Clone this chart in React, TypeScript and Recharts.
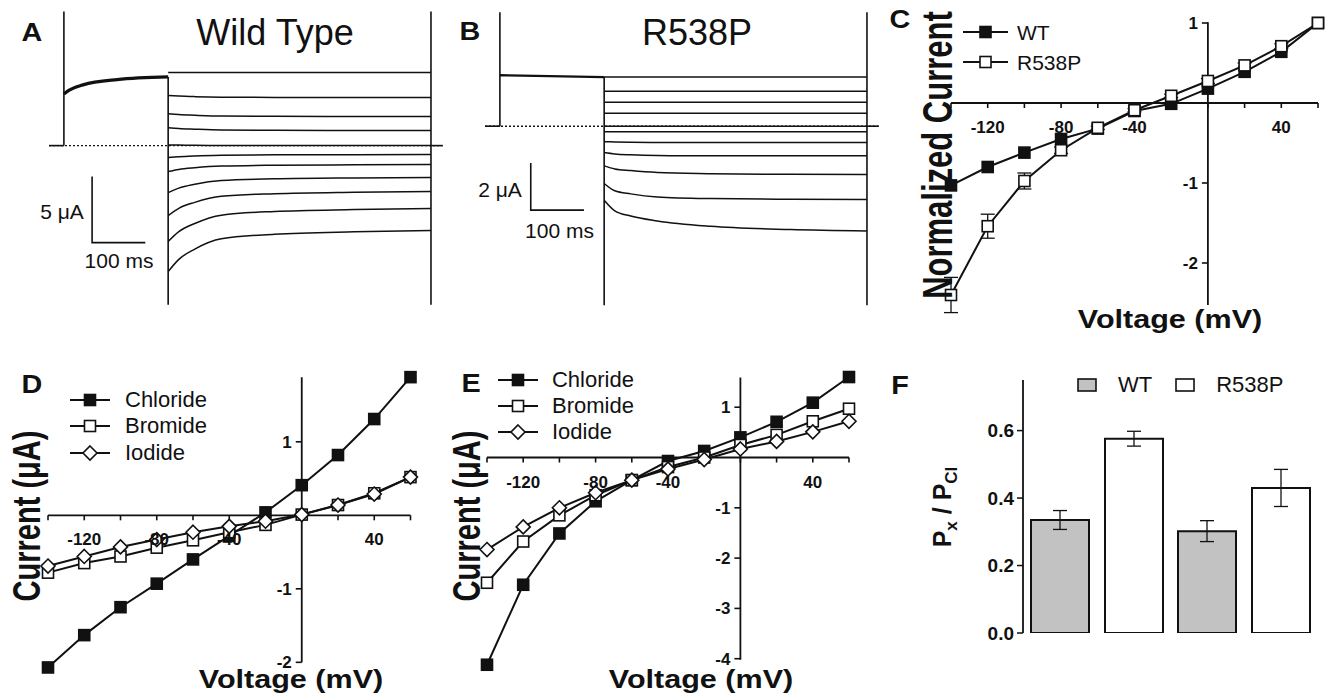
import React from 'react';
import {
  LineChart,
  Line,
  XAxis,
  YAxis,
  ReferenceLine,
  ErrorBar,
  BarChart,
  Bar,
  Legend,
} from 'recharts';

const FONT = '"Liberation Sans", Arial, Helvetica, sans-serif';
const INK = '#111';

// ---- A / B: two-electrode voltage clamp traces (time in ms, current in µA) ----
const protocolDomain = [-28, 712];
const testStart = 196;
const testEnd = 690;
const testTimes = [0, 20, 50, 100, 200, 350, 494];

const wtPreTimes = [0, 10, 36, 100, 196];
const wtPreCurrent = [3.9, 4.2, 4.6, 5.0, 5.2];
const wtTestCurrents = [
  [5.53, 5.53, 5.53, 5.53, 5.53, 5.53, 5.53],
  [3.79, 3.75, 3.71, 3.67, 3.65, 3.64, 3.64],
  [2.42, 2.35, 2.3, 2.24, 2.22, 2.21, 2.2],
  [1.36, 1.29, 1.24, 1.18, 1.16, 1.15, 1.14],
  [0.05, 0.04, 0.02, 0.01, 0, 0, 0],
  [-0.91, -0.84, -0.78, -0.73, -0.7, -0.69, -0.68],
  [-1.97, -1.81, -1.68, -1.55, -1.49, -1.46, -1.44],
  [-3.56, -3.22, -2.93, -2.65, -2.52, -2.45, -2.42],
  [-5.3, -4.75, -4.3, -3.84, -3.64, -3.53, -3.48],
  [-7.27, -6.52, -5.9, -5.27, -4.99, -4.85, -4.77],
  [-9.55, -8.62, -7.84, -7.06, -6.72, -6.53, -6.44],
];
const wtSpike = [10.15, -12.05];
const wtScaleBar = [[53, -2.35], [53, -7.35], [153, -7.35]];

const mutPreTimes = [0, 196];
const mutPreCurrent = [2.17, 2.09];
const mutTestCurrents = [
  [2.09, 2.09, 2.09, 2.09, 2.09, 2.09, 2.09],
  [1.49, 1.49, 1.49, 1.49, 1.49, 1.49, 1.49],
  [1.02, 1.02, 1.02, 1.02, 1.02, 1.02, 1.02],
  [0.55, 0.55, 0.55, 0.55, 0.55, 0.55, 0.55],
  [0, 0, 0, 0, 0, 0, 0],
  [-0.24, -0.24, -0.24, -0.24, -0.24, -0.24, -0.24],
  [-0.66, -0.67, -0.68, -0.69, -0.69, -0.69, -0.69],
  [-1.12, -1.18, -1.22, -1.25, -1.26, -1.26, -1.26],
  [-1.69, -1.82, -1.89, -1.97, -2.02, -2.05, -2.06],
  [-2.44, -2.75, -2.88, -3.01, -3.08, -3.11, -3.12],
  [-3.15, -3.6, -3.82, -4.03, -4.26, -4.4, -4.46],
];
const mutSpike = [4.85, -7.62];
const mutScaleBar = [[58, -1.57], [58, -3.57], [158, -3.57]];

// ---- C / D / E: current-voltage relations ----
const voltages = [-140, -120, -100, -80, -60, -40, -20, 0, 20, 40, 60];

const wtNorm = [-1.03, -0.8, -0.62, -0.45, -0.32, -0.1, -0.01, 0.18, 0.39, 0.64, 1.0];
const r538pNorm = [-2.4, -1.54, -0.975, -0.59, -0.31, -0.09, 0.09, 0.275, 0.47, 0.71, 1.0];
const r538pNormErr = [0.22, 0.15, 0.1, 0.04, 0.02, 0.02, 0.02, 0.03, 0.03, 0.03, 0];

const wtChloride = [-2.07, -1.63, -1.25, -0.93, -0.6, -0.28, 0.04, 0.41, 0.82, 1.31, 1.88];
const wtBromide = [-0.78, -0.65, -0.56, -0.44, -0.34, -0.23, -0.13, 0.01, 0.14, 0.3, 0.52];
const wtIodide = [-0.69, -0.56, -0.43, -0.33, -0.23, -0.15, -0.08, 0.01, 0.14, 0.29, 0.52];

const mutChloride = [-4.12, -2.53, -1.51, -0.87, -0.45, -0.07, 0.13, 0.4, 0.71, 1.09, 1.6];
const mutBromide = [-2.49, -1.67, -1.15, -0.75, -0.45, -0.19, 0.0, 0.25, 0.45, 0.72, 0.97];
const mutIodide = [-1.83, -1.38, -1.0, -0.7, -0.45, -0.23, -0.04, 0.17, 0.32, 0.51, 0.72];

const ivDomain = [-140, 60];
const ivTicks = [-140, -120, -100, -80, -60, -40, -20, 0, 20, 40, 60];
const ivTickLabels = [-120, -80, -40, 40];

// ---- F: relative permeability ----
const ions = ['Br', 'I'];
const wtPerm = [0.335, 0.302];
const wtPermErr = [0.028, 0.031];
const mutPerm = [0.576, 0.43];
const mutPermErr = [0.022, 0.055];
const permTicks = [0, 0.2, 0.4, 0.6];

type Shape = 'filledSquare' | 'openSquare' | 'diamond';

function Marker({ shape, cx, cy }: { shape: Shape; cx: number; cy: number }) {
  if (cx == null || cy == null) return null;
  if (shape === 'diamond') {
    const r = 7;
    return (
      <path
        d={`M${cx},${cy - r}L${cx + r},${cy}L${cx},${cy + r}L${cx - r},${cy}Z`}
        fill="#fff"
        stroke={INK}
        strokeWidth={1.6}
      />
    );
  }
  const s = 11;
  return (
    <rect
      x={cx - s / 2}
      y={cy - s / 2}
      width={s}
      height={s}
      fill={shape === 'filledSquare' ? INK : '#fff'}
      stroke={INK}
      strokeWidth={1.6}
    />
  );
}

function Txt({ x, y, size, bold, anchor = 'middle', sx = 1, sy = 1, rotate = false, children }: any) {
  const tx = anchor === 'middle' ? '-50%' : anchor === 'end' ? '-100%' : '0';
  return (
    <div
      style={{
        position: 'absolute',
        left: x,
        top: y,
        fontSize: size,
        fontWeight: bold ? 700 : 400,
        lineHeight: 1,
        whiteSpace: 'nowrap',
        transform: `translate(${tx}, -50%) ${rotate ? 'rotate(-90deg)' : ''} scale(${sx}, ${sy})`,
      }}
    >
      {children}
    </div>
  );
}

function TracePanel({ t0, zero, pxMs, pxUA, yDomain, preTimes, pre, tests, spike, scaleBar, preWidth }: any) {
  const M = 6;
  const plotLeft = t0 + protocolDomain[0] * pxMs;
  const plotTop = zero - yDomain[1] * pxUA;
  const w = (protocolDomain[1] - protocolDomain[0]) * pxMs;
  const h = (yDomain[1] - yDomain[0]) * pxUA;
  const toRows = (pairs: number[][]) => pairs.map(([t, i]) => ({ t, i }));
  const segments = [
    [[protocolDomain[0], 0], [0, 0]],
    [[0, 0], [0, spike[0]]],
    [[testStart, pre[pre.length - 1]], [testStart, spike[1]]],
    [[testEnd, spike[0]], [testEnd, spike[1]]],
    [[testEnd, 0], [protocolDomain[1], 0]],
  ];
  return (
    <div style={{ position: 'absolute', left: plotLeft - M, top: plotTop - M }}>
      <LineChart width={w + 2 * M} height={h + 2 * M} margin={{ top: M, right: M, bottom: M, left: M }}>
        <XAxis dataKey="t" type="number" domain={protocolDomain} hide />
        <YAxis type="number" domain={yDomain} hide />
        <ReferenceLine y={0} stroke={INK} strokeWidth={1.4} strokeDasharray="2 2" />
        {segments.map((s, k) => (
          <Line key={`seg${k}`} data={toRows(s)} dataKey="i" type="linear" stroke={INK} strokeWidth={1.6} dot={false} activeDot={false} isAnimationActive={false} />
        ))}
        <Line
          data={preTimes.map((t: number, k: number) => ({ t, i: pre[k] }))}
          dataKey="i"
          type="monotone"
          stroke={INK}
          strokeWidth={preWidth}
          dot={false}
          activeDot={false}
          isAnimationActive={false}
        />
        {tests.map((vals: number[], k: number) => (
          <Line
            key={`tr${k}`}
            data={testTimes.map((t, j) => ({ t: t + testStart, i: vals[j] }))}
            dataKey="i"
            type="monotone"
            stroke={INK}
            strokeWidth={1.5}
            dot={false}
            activeDot={false}
            isAnimationActive={false}
          />
        ))}
        <Line data={toRows(scaleBar)} dataKey="i" type="linear" stroke={INK} strokeWidth={1.6} dot={false} activeDot={false} isAnimationActive={false} />
      </LineChart>
    </div>
  );
}

const tickFont = { fontSize: 17, fontWeight: 700, fill: INK, fontFamily: FONT };

function IVPanel({ ox, oy, sx, sy, yDomain, yAxis, yTicks, series, legend }: any) {
  const M = 14;
  const plotLeft = ox + ivDomain[0] * sx;
  const plotTop = oy - yDomain[1] * sy;
  const w = (ivDomain[1] - ivDomain[0]) * sx;
  const h = (yDomain[1] - yDomain[0]) * sy;
  const boxLeft = plotLeft - M;
  const boxTop = plotTop - M;
  const rows = voltages.map((v, k) => {
    const row: any = { v };
    series.forEach((s: any) => {
      row[s.key] = s.values[k];
      if (s.err) row[`${s.key}Err`] = s.err[k];
    });
    return row;
  });
  const xTickLen = 5 / sy;
  const yTickLen = 6 / sx;
  const legendContent = () => (
    <div style={{ fontFamily: FONT, fontSize: legend.fontSize, color: INK, lineHeight: 1 }}>
      {series.map((s: any) => (
        <div key={s.key} style={{ display: 'flex', alignItems: 'center', height: legend.rowH }}>
          <svg width={legend.lineW} height={16} style={{ marginRight: legend.gap, overflow: 'visible' }}>
            <line x1={0} y1={8} x2={legend.lineW} y2={8} stroke={INK} strokeWidth={2} />
            <Marker shape={s.shape} cx={legend.lineW / 2} cy={8} />
          </svg>
          <span>{s.name}</span>
        </div>
      ))}
    </div>
  );
  return (
    <div style={{ position: 'absolute', left: boxLeft, top: boxTop }}>
      <LineChart width={w + 2 * M} height={h + 2 * M} data={rows} margin={{ top: M, right: M, bottom: M, left: M }}>
        <XAxis dataKey="v" type="number" domain={ivDomain} hide />
        <YAxis type="number" domain={yDomain} hide />
        <ReferenceLine y={0} stroke={INK} strokeWidth={1.8} />
        <ReferenceLine segment={[{ x: 0, y: yAxis[0] }, { x: 0, y: yAxis[1] }]} stroke={INK} strokeWidth={1.8} />
        {ivTicks.map((v) => (
          <ReferenceLine
            key={`xt${v}`}
            segment={[{ x: v, y: 0 }, { x: v, y: -xTickLen }]}
            stroke={INK}
            strokeWidth={1.6}
            label={ivTickLabels.includes(v) ? { value: String(v), position: 'bottom', offset: 13, ...tickFont } : undefined}
          />
        ))}
        {yTicks.map((v: number) => (
          <ReferenceLine
            key={`yt${v}`}
            segment={[{ x: 0, y: v }, { x: -yTickLen, y: v }]}
            stroke={INK}
            strokeWidth={1.6}
            label={{ value: String(v), position: 'left', offset: 4, ...tickFont }}
          />
        ))}
        {series.map((s: any) => (
          <Line
            key={s.key}
            dataKey={s.key}
            name={s.name}
            type="linear"
            stroke={INK}
            strokeWidth={2}
            isAnimationActive={false}
            activeDot={false}
            dot={(p: any) => <Marker key={`${s.key}-${p.index}`} shape={s.shape} cx={p.cx} cy={p.cy} />}
          >
            {s.err && <ErrorBar dataKey={`${s.key}Err`} width={7} stroke={INK} strokeWidth={1.3} isAnimationActive={false} />}
          </Line>
        ))}
        <Legend
          layout="vertical"
          align="center"
          verticalAlign="middle"
          wrapperStyle={{ left: legend.x - boxLeft, top: legend.y - boxTop, width: 'auto', height: 'auto' }}
          content={legendContent}
        />
      </LineChart>
    </div>
  );
}

const fSeries = [
  { key: 'wt', name: 'WT', fill: '#c2c2c2' },
  { key: 'mut', name: 'R538P', fill: '#fff' },
];

function PermPanel() {
  const rows = ions.map((ion, k) => ({
    ion,
    wt: wtPerm[k],
    wtErr: wtPermErr[k],
    mut: mutPerm[k],
    mutErr: mutPermErr[k],
  }));
  const boxLeft = 963;
  const boxTop = 370;
  const legendContent = () => (
    <div style={{ display: 'flex', alignItems: 'center', height: 22, fontSize: 22, fontFamily: FONT, color: INK, lineHeight: 1 }}>
      {fSeries.map((s) => (
        <React.Fragment key={s.key}>
          <svg width={20} height={14}>
            <rect x={1} y={1} width={18} height={12} fill={s.fill} stroke={INK} strokeWidth={1.6} />
          </svg>
          <span style={{ marginLeft: 21, marginRight: 23 }}>{s.name}</span>
        </React.Fragment>
      ))}
    </div>
  );
  return (
    <div style={{ position: 'absolute', left: boxLeft, top: boxTop }}>
      <BarChart
        width={368}
        height={303}
        data={rows}
        margin={{ top: 10, right: 14, left: 0, bottom: 40 }}
        barCategoryGap={8}
        barGap={16}
      >
        <XAxis
          xAxisId="edge"
          type="number"
          domain={[0, 2]}
          ticks={[0, 1, 2]}
          allowDataOverflow
          tick={false}
          axisLine={false}
          tickLine={{ stroke: INK, strokeWidth: 1.5 }}
          tickSize={6}
          height={0}
        />
        <XAxis
          xAxisId="cat"
          dataKey="ion"
          type="category"
          height={0}
          tickLine={false}
          tickMargin={4}
          axisLine={{ stroke: INK, strokeWidth: 1.8 }}
          tick={{ fontSize: 21, fontWeight: 700, fill: INK, fontFamily: FONT }}
        />
        <YAxis
          width={60}
          type="number"
          domain={[0, 0.75]}
          ticks={permTicks}
          allowDataOverflow
          tickFormatter={(v: number) => v.toFixed(1)}
          tick={{ fontSize: 19, fontWeight: 700, fill: INK, fontFamily: FONT }}
          tickSize={6}
          tickMargin={3}
          tickLine={{ stroke: INK, strokeWidth: 1.5 }}
          axisLine={{ stroke: INK, strokeWidth: 1.8 }}
        />
        <Bar xAxisId="cat" dataKey="wt" name="WT" fill="#c2c2c2" stroke={INK} strokeWidth={2} isAnimationActive={false}>
          <ErrorBar dataKey="wtErr" width={7} stroke={INK} strokeWidth={1.3} isAnimationActive={false} />
        </Bar>
        <Bar xAxisId="cat" dataKey="mut" name="R538P" fill="#fff" stroke={INK} strokeWidth={2} isAnimationActive={false}>
          <ErrorBar dataKey="mutErr" width={7} stroke={INK} strokeWidth={1.3} isAnimationActive={false} />
        </Bar>
        <Legend
          layout="vertical"
          align="center"
          verticalAlign="middle"
          wrapperStyle={{ left: 1077 - boxLeft, top: 374 - boxTop, width: 'auto', height: 'auto' }}
          content={legendContent}
        />
      </BarChart>
    </div>
  );
}

export default function App() {
  return (
    <div
      style={{
        position: 'absolute',
        left: 0,
        top: 0,
        width: 1331,
        height: 695,
        background: '#fff',
        overflow: 'hidden',
        fontFamily: FONT,
        color: INK,
      }}
    >
      <TracePanel
        t0={64}
        zero={146}
        pxMs={0.532}
        pxUA={13.2}
        yDomain={[-12.5, 10.5]}
        preTimes={wtPreTimes}
        pre={wtPreCurrent}
        tests={wtTestCurrents}
        spike={wtSpike}
        scaleBar={wtScaleBar}
        preWidth={3.2}
      />
      <TracePanel
        t0={500}
        zero={126}
        pxMs={0.532}
        pxUA={23.5}
        yDomain={[-8, 5.2]}
        preTimes={mutPreTimes}
        pre={mutPreCurrent}
        tests={mutTestCurrents}
        spike={mutSpike}
        scaleBar={mutScaleBar}
        preWidth={2.4}
      />
      <IVPanel
        ox={1208}
        oy={103}
        sx={1.835}
        sy={80}
        yDomain={[-2.7, 1.1]}
        yAxis={[-2.525, 1.01]}
        yTicks={[1, -1, -2]}
        series={[
          { key: 'wt', name: 'WT', values: wtNorm, shape: 'filledSquare' },
          { key: 'mut', name: 'R538P', values: r538pNorm, err: r538pNormErr, shape: 'openSquare' },
        ]}
        legend={{ x: 963, y: 17, rowH: 30, lineW: 45, gap: 9, fontSize: 21 }}
      />
      <IVPanel
        ox={302}
        oy={515}
        sx={1.8125}
        sy={73.5}
        yDomain={[-2.15, 1.95]}
        yAxis={[-2.0, 1.877]}
        yTicks={[1, -1, -2]}
        series={[
          { key: 'cl', name: 'Chloride', values: wtChloride, shape: 'filledSquare' },
          { key: 'br', name: 'Bromide', values: wtBromide, shape: 'openSquare' },
          { key: 'io', name: 'Iodide', values: wtIodide, shape: 'diamond' },
        ]}
        legend={{ x: 70, y: 386.5, rowH: 26.5, lineW: 40, gap: 15, fontSize: 22 }}
      />
      <IVPanel
        ox={740}
        oy={458}
        sx={1.81}
        sy={50.3}
        yDomain={[-4.25, 1.7]}
        yAxis={[-4.02, 1.59]}
        yTicks={[1, -1, -2, -3, -4]}
        series={[
          { key: 'cl', name: 'Chloride', values: mutChloride, shape: 'filledSquare' },
          { key: 'br', name: 'Bromide', values: mutBromide, shape: 'openSquare' },
          { key: 'io', name: 'Iodide', values: mutIodide, shape: 'diamond' },
        ]}
        legend={{ x: 498, y: 367, rowH: 26, lineW: 40, gap: 14, fontSize: 22 }}
      />
      <PermPanel />

      {/* panel letters */}
      <Txt x={31.5} y={32} size={25} bold sx={1.15}>A</Txt>
      <Txt x={470} y={31} size={25} bold sx={1.15}>B</Txt>
      <Txt x={900} y={19} size={25} bold sx={1.15}>C</Txt>
      <Txt x={32} y={384} size={25} bold sx={1.15}>D</Txt>
      <Txt x={471} y={383} size={25} bold sx={1.15}>E</Txt>
      <Txt x={900} y={385} size={25} bold sx={1.15}>F</Txt>

      {/* trace titles and scale bars */}
      <Txt x={275} y={33} size={36}>Wild Type</Txt>
      <Txt x={697} y={32.5} size={36}>R538P</Txt>
      <Txt x={62} y={211} size={21}>5 μA</Txt>
      <Txt x={119} y={259.5} size={21}>100 ms</Txt>
      <Txt x={500} y={188.5} size={21}>2 μA</Txt>
      <Txt x={559.5} y={229.5} size={21}>100 ms</Txt>

      {/* axis titles */}
      <Txt x={1170} y={319} size={26} bold sx={1.175}>Voltage (mV)</Txt>
      <Txt x={938} y={155} size={31} bold rotate sy={1.35}>Normalized Current</Txt>
      <Txt x={290.5} y={679} size={26} bold sx={1.175}>Voltage (mV)</Txt>
      <Txt x={27} y={516} size={29} bold rotate sy={1.33}>Current (μA)</Txt>
      <Txt x={701} y={679} size={26} bold sx={1.175}>Voltage (mV)</Txt>
      <Txt x={467} y={516} size={29} bold rotate sy={1.33}>Current (μA)</Txt>
      <Txt x={945} y={507} size={25} bold rotate>
        P<sub style={{ fontSize: '0.68em' }}>x</sub> / P<sub style={{ fontSize: '0.68em' }}>Cl</sub>
      </Txt>
    </div>
  );
}
